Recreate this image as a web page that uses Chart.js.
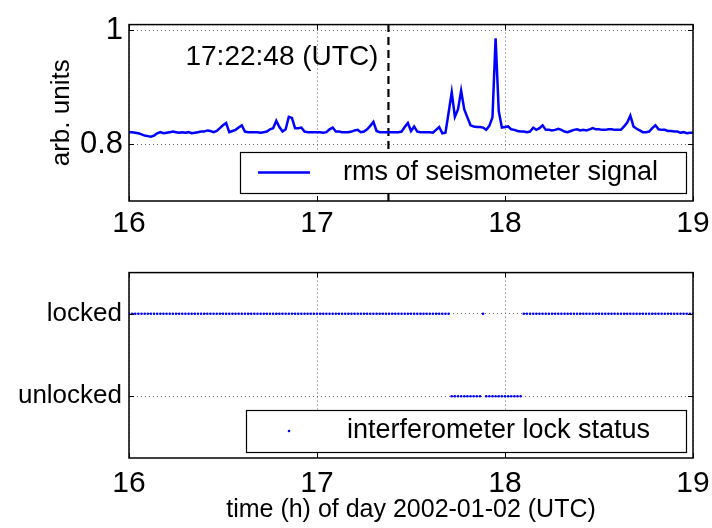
<!DOCTYPE html>
<html>
<head>
<meta charset="utf-8">
<script src="https://cdn.jsdelivr.net/npm/chart.js@4"></script>
<style>
  html, body { margin: 0; padding: 0; background: #fff; }
  #wrap { position: relative; width: 712px; height: 528px; }
  #top { position: absolute; left: 0; top: 0; width: 712px; height: 250px; }
  #bot { position: absolute; left: 0; top: 250px; width: 712px; height: 278px; }
</style>
</head>
<body>
<div id="wrap">
  <canvas id="top" width="712" height="250"></canvas>
  <canvas id="bot" width="712" height="278"></canvas>
</div>
<script>
// one sample per minute, 16:00 .. 19:00
const xStart = 16, xEnd = 19, stepMin = 1;
const xTicks = [16, 17, 18, 19];

// rms of seismometer signal (arb. units)
const rmsValues = [
  0.821, 0.821, 0.820, 0.819, 0.817, 0.815, 0.814, 0.813, 0.815, 0.819,
  0.821, 0.819, 0.820, 0.821, 0.822, 0.821, 0.820, 0.821, 0.820, 0.821,
  0.819, 0.820, 0.821, 0.822, 0.822, 0.824, 0.823, 0.821, 0.823, 0.828,
  0.833, 0.837, 0.821, 0.823, 0.825, 0.829, 0.833, 0.822, 0.821, 0.821,
  0.821, 0.821, 0.820, 0.821, 0.822, 0.826, 0.828, 0.841, 0.830, 0.822,
  0.826, 0.848, 0.846, 0.828, 0.828, 0.829, 0.822, 0.821, 0.821, 0.821,
  0.821, 0.821, 0.820, 0.821, 0.826, 0.829, 0.822, 0.822, 0.821, 0.821,
  0.821, 0.822, 0.824, 0.825, 0.821, 0.822, 0.826, 0.832, 0.839, 0.823,
  0.821, 0.821, 0.821, 0.821, 0.821, 0.821, 0.821, 0.822, 0.830, 0.837,
  0.823, 0.831, 0.822, 0.821, 0.821, 0.821, 0.821, 0.820, 0.825, 0.830,
  0.819, 0.820, 0.855, 0.891, 0.848, 0.861, 0.894, 0.861, 0.847, 0.833,
  0.831, 0.830, 0.830, 0.829, 0.825, 0.832, 0.847, 0.986, 0.858, 0.829,
  0.830, 0.831, 0.826, 0.825, 0.823, 0.822, 0.822, 0.821, 0.822, 0.829,
  0.825, 0.828, 0.833, 0.825, 0.825, 0.824, 0.825, 0.827, 0.825, 0.822,
  0.821, 0.823, 0.825, 0.826, 0.824, 0.825, 0.824, 0.826, 0.828, 0.826,
  0.826, 0.825, 0.825, 0.826, 0.826, 0.825, 0.825, 0.825, 0.831, 0.838,
  0.850, 0.831, 0.827, 0.824, 0.821, 0.821, 0.822, 0.828, 0.833, 0.826,
  0.825, 0.825, 0.823, 0.823, 0.822, 0.822, 0.820, 0.821, 0.819, 0.820,
  0.820
];

// interferometer lock status (1 = locked, 0 = unlocked)
const lockStatus = [
  1, 1, 1, 1, 1, 1, 1, 1, 1, 1,
  1, 1, 1, 1, 1, 1, 1, 1, 1, 1,
  1, 1, 1, 1, 1, 1, 1, 1, 1, 1,
  1, 1, 1, 1, 1, 1, 1, 1, 1, 1,
  1, 1, 1, 1, 1, 1, 1, 1, 1, 1,
  1, 1, 1, 1, 1, 1, 1, 1, 1, 1,
  1, 1, 1, 1, 1, 1, 1, 1, 1, 1,
  1, 1, 1, 1, 1, 1, 1, 1, 1, 1,
  1, 1, 1, 1, 1, 1, 1, 1, 1, 1,
  1, 1, 1, 1, 1, 1, 1, 1, 1, 1,
  1, 1, 1, 0, 0, 0, 0, 0, 0, 0,
  0, 0, 0, 1, 0, 0, 0, 0, 0, 0,
  0, 0, 0, 0, 0, 0, 1, 1, 1, 1,
  1, 1, 1, 1, 1, 1, 1, 1, 1, 1,
  1, 1, 1, 1, 1, 1, 1, 1, 1, 1,
  1, 1, 1, 1, 1, 1, 1, 1, 1, 1,
  1, 1, 1, 1, 1, 1, 1, 1, 1, 1,
  1, 1, 1, 1, 1, 1, 1, 1, 1, 1,
  1
];
const lockLabels = ['unlocked', 'locked'];

const rmsTicks = [0.8, 1];
const rmsMin = 0.7, rmsMax = 1.01;
const markerHour = 17.38;
const markerText = '17:22:48 (UTC)';
const rmsLegend = 'rms of seismometer signal';
const lockLegend = 'interferometer lock status';
const xTitle = 'time (h) of day 2002-01-02 (UTC)';
const yTitle = 'arb. units';

const FONT = '"Liberation Sans", Arial, sans-serif';
Chart.defaults.font.family = FONT;
Chart.defaults.color = '#000';
const BLUE = '#0000ff';

const hourOf = i => xStart + i * stepMin / 60;
const rmsPoints = rmsValues.map((v, i) => ({ x: hourOf(i), y: v }));
const lockPoints = lockStatus.map((v, i) => ({ x: hourOf(i), y: v }));

// frame, inward ticks, legend box, annotation text
const framePlugin = {
  id: 'frame',
  afterDraw(chart, args, opts) {
    const { ctx, chartArea: a, scales } = chart;
    ctx.save();
    ctx.strokeStyle = '#000';
    ctx.lineWidth = 1;
    ctx.beginPath();
    scales.x.ticks.forEach(t => {
      const px = Math.round(scales.x.getPixelForValue(t.value)) + 0.5;
      ctx.moveTo(px, a.bottom); ctx.lineTo(px, a.bottom - 5);
      ctx.moveTo(px, a.top); ctx.lineTo(px, a.top + 5);
    });
    scales.y.ticks.forEach(t => {
      const py = Math.round(scales.y.getPixelForValue(t.value)) + 0.5;
      ctx.moveTo(a.left, py); ctx.lineTo(a.left + 5, py);
      ctx.moveTo(a.right, py); ctx.lineTo(a.right - 5, py);
    });
    ctx.stroke();

    if (opts.text) {
      ctx.font = '28px ' + FONT;
      ctx.fillStyle = '#000';
      ctx.textAlign = 'right';
      ctx.textBaseline = 'middle';
      ctx.fillText(opts.text, scales.x.getPixelForValue(markerHour) - 10, a.top + 33);
    }

    if (opts.legend) {
      const L = opts.legend;
      const r = a.right - L.right, b = a.bottom - L.bottom;
      const l = r - L.width, t = b - L.height;
      ctx.fillStyle = '#fff';
      ctx.fillRect(l, t, L.width, L.height);
      ctx.lineWidth = 1.2;
      ctx.strokeRect(l + 0.5, t + 0.5, L.width, L.height);
      const cy = t + L.height / 2;
      if (L.kind === 'line') {
        ctx.strokeStyle = BLUE;
        ctx.lineWidth = 2.5;
        ctx.beginPath();
        ctx.moveTo(l + 18, cy); ctx.lineTo(l + 70, cy);
        ctx.stroke();
      } else {
        ctx.fillStyle = BLUE;
        ctx.beginPath();
        ctx.arc(l + 43, cy, 1.3, 0, Math.PI * 2);
        ctx.fill();
      }
      ctx.fillStyle = '#000';
      ctx.font = '27px ' + FONT;
      ctx.textAlign = 'left';
      ctx.textBaseline = 'middle';
      ctx.fillText(L.text, l + L.textX, cy);
    }

    ctx.lineWidth = 1.5;
    ctx.strokeStyle = '#000';
    ctx.strokeRect(a.left, a.top, a.right - a.left, a.bottom - a.top);
    ctx.restore();
  }
};

const gridStyle = { color: '#666', lineWidth: 1, drawTicks: false };
const borderStyle = { display: false, dash: [1, 3] };

function xScale(height, pad, title) {
  return {
    type: 'linear',
    min: xStart, max: xEnd,
    afterBuildTicks: s => { s.ticks = xTicks.map(v => ({ value: v })); },
    grid: gridStyle,
    border: borderStyle,
    ticks: { font: { size: 30 }, padding: pad, maxRotation: 0 },
    title: title ? { display: true, text: title, font: { size: 25 }, padding: { top: 0, bottom: 3 } } : { display: false },
    afterFit: s => { s.height = height; s.paddingLeft = 0; s.paddingRight = 0; }
  };
}

new Chart(document.getElementById('top'), {
  type: 'line',
  data: {
    datasets: [
      { label: rmsLegend, data: rmsPoints, borderColor: BLUE, borderWidth: 2.5, pointRadius: 0, tension: 0 },
      { label: 'marker', data: [{ x: markerHour, y: rmsMin }, { x: markerHour, y: rmsMax }],
        borderColor: '#000', borderWidth: 2.2, borderDash: [8, 5], pointRadius: 0 }
    ]
  },
  options: {
    responsive: false,
    animation: false,
    layout: { padding: { left: 0, right: 19, top: 13, bottom: 0 } },
    plugins: {
      legend: { display: false },
      tooltip: { enabled: false },
      frame: { text: markerText, legend: { kind: 'line', text: rmsLegend, width: 446, height: 41, right: 7, bottom: 8, textX: 103 } }
    },
    scales: {
      x: xScale(49, 5, null),
      y: {
        min: rmsMin, max: rmsMax,
        afterBuildTicks: s => { s.ticks = rmsTicks.map(v => ({ value: v })); },
        grid: gridStyle,
        border: borderStyle,
        ticks: { font: { size: 31 }, padding: 6, callback: v => String(v) },
        title: { display: true, text: yTitle, font: { size: 26 }, padding: { top: 46, bottom: 0 } },
        afterFit: s => { s.width = 129; }
      }
    }
  },
  plugins: [framePlugin]
});

new Chart(document.getElementById('bot'), {
  type: 'line',
  data: {
    datasets: [
      { label: lockLegend, data: lockPoints, showLine: false, pointRadius: 1.3, pointBorderWidth: 0,
        pointBackgroundColor: BLUE, borderColor: BLUE }
    ]
  },
  options: {
    responsive: false,
    animation: false,
    layout: { padding: { left: 0, right: 19, top: 21, bottom: 0 } },
    plugins: {
      legend: { display: false },
      tooltip: { enabled: false },
      frame: { legend: { kind: 'dot', text: lockLegend, width: 440, height: 42, right: 7, bottom: 6, textX: 101 } }
    },
    scales: {
      x: xScale(70, 8, xTitle),
      y: {
        min: -0.75, max: 1.5,
        afterBuildTicks: s => { s.ticks = [0, 1].map(v => ({ value: v })); },
        grid: gridStyle,
        border: borderStyle,
        ticks: { font: { size: 26 }, padding: 7, callback: v => lockLabels[v] },
        afterFit: s => { s.width = 129; }
      }
    }
  },
  plugins: [framePlugin]
});
</script>
</body>
</html>
